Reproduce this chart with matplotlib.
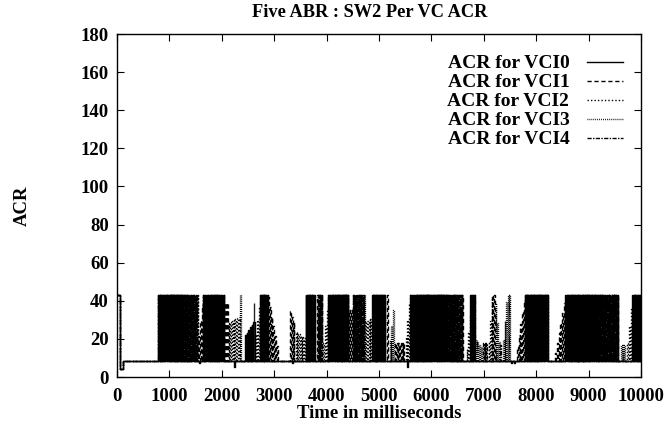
import matplotlib.pyplot as plt
import numpy as np

plt.rcParams['font.family'] = 'Liberation Serif'
plt.rcParams['font.weight'] = 'bold'

# start-up transient shared by all VCs (ms, ACR)
start_t = [0, 50, 110]
start_acr = [43.0, 4.3, 8.6]
low_acr = 8.6
end_ms = 10000
step_ms = 16  # switch measurement interval

# bursts per VC: (start ms, end ms, peak ACR at start, peak ACR at end)
vci0_bursts = [(780, 1250, 43, 43), (1640, 2060, 43, 43), (2440, 2630, 22, 30),
               (2730, 2880, 43, 43), (3600, 3780, 43, 43), (4030, 4410, 43, 43),
               (4870, 5110, 43, 43), (5590, 6300, 43, 43), (6740, 6830, 43, 43),
               (7780, 8220, 43, 43), (8550, 9200, 43, 43), (9830, 10000, 43, 43)]
vci1_bursts = [(900, 1550, 43, 43), (1550, 1640, 20, 43), (2060, 2120, 39, 39),
               (2880, 3070, 43, 12), (3300, 3400, 35, 26), (3820, 3930, 43, 43),
               (4100, 4410, 43, 43), (4410, 4500, 35, 35), (4500, 4730, 43, 43),
               (5150, 5190, 43, 43), (5300, 5500, 18, 18), (5900, 6600, 43, 43),
               (7160, 7210, 43, 43), (7630, 7780, 15, 43), (7800, 8200, 43, 43),
               (8360, 8550, 12, 43), (8900, 9560, 43, 43)]
vci2_bursts = [(780, 1150, 43, 43), (1150, 1550, 43, 43), (1640, 2000, 43, 43),
               (2120, 2350, 28, 32), (2630, 2730, 20, 43), (2740, 2880, 43, 43),
               (3400, 3590, 24, 20), (3620, 3780, 43, 43), (3930, 4030, 15, 43),
               (4030, 4400, 43, 43), (4730, 4870, 29, 31), (4880, 5100, 43, 43),
               (5500, 5590, 18, 43), (5590, 6500, 43, 43), (6660, 6770, 12, 43),
               (7080, 7160, 14, 43), (7780, 8220, 43, 43), (8550, 9560, 43, 43),
               (9730, 9830, 15, 43), (9830, 10000, 43, 43)]
vci3_bursts = [(800, 1550, 43, 43), (1700, 2060, 43, 43), (2340, 2360, 43, 43),
               (2590, 2610, 39, 39), (2760, 2880, 43, 43), (3600, 3760, 43, 43),
               (3820, 3920, 43, 43), (4050, 4410, 43, 43), (4500, 4730, 43, 43),
               (4870, 5110, 43, 43), (5190, 5300, 15, 43), (5600, 6600, 43, 43),
               (6830, 6960, 20, 15), (7210, 7310, 43, 12), (7350, 7440, 15, 43),
               (7440, 7500, 43, 43), (8100, 8220, 43, 43), (8550, 9560, 43, 43),
               (9600, 9700, 17, 17)]
vci4_bursts = [(780, 1500, 43, 43), (1640, 2050, 43, 43), (2730, 2860, 43, 43),
               (3620, 3700, 43, 43), (3830, 3930, 43, 43), (4030, 4400, 43, 43),
               (4500, 4720, 43, 43), (4880, 5110, 43, 43), (5700, 6600, 43, 43),
               (6750, 6830, 43, 43), (6980, 7080, 18, 18), (7310, 7350, 17, 17),
               (7780, 8200, 43, 43), (8560, 9560, 43, 43), (9840, 10000, 43, 43)]

# short dips below the floor value (ms, ACR)
dip_t = [1560, 2240, 3340, 5540, 7520, 7580]
dip_acr = [7.3, 5.4, 7.3, 5.4, 7.5, 7.5]

labels = ['ACR for VCI0', 'ACR for VCI1', 'ACR for VCI2', 'ACR for VCI3', 'ACR for VCI4']
bursts = [vci0_bursts, vci1_bursts, vci2_bursts, vci3_bursts, vci4_bursts]
styles = ['-', (0, (3, 2)), (0, (1, 1.5)), (0, (0.6, 0.8)), (0, (3, 1, 1, 1))]


def build_series(burst_list, phase, with_dips):
    t = list(start_t)
    v = list(start_acr)
    events = []
    for t0, t1, h0, h1 in burst_list:
        n = int((t1 - t0) // step_ms)
        for k in range(n):
            tk = t0 + phase + k * step_ms
            if tk >= t1:
                break
            if k % 2 == 0:
                frac = (tk - t0) / max(t1 - t0, 1)
                events.append((tk, h0 + (h1 - h0) * frac))
            else:
                events.append((tk, low_acr))
        events.append((t1, low_acr))
    if with_dips:
        for td, vd in zip(dip_t, dip_acr):
            events.append((td, vd))
            events.append((td + 15, low_acr))
    events.sort()
    for tk, vk in events:
        if tk > start_t[-1]:
            t.append(tk)
            v.append(vk)
    t.append(end_ms)
    v.append(v[-1])
    return np.array(t), np.array(v)


fig = plt.figure(figsize=(6.66, 4.29), dpi=100)
ax = fig.add_axes([0.1757, 0.1212, 0.7868, 0.7995])

for i in range(5):
    t, v = build_series(bursts[i], (i * 5) % step_ms, i == 0)
    ax.plot(t, v, color='black', lw=1.0, linestyle=styles[i],
            drawstyle='steps-post', label=labels[i])

ax.set_xlim(0, 10000)
ax.set_ylim(0, 180)
ax.set_xticks(np.arange(0, 10001, 1000))
ax.set_yticks(np.arange(0, 181, 20))
ax.tick_params(axis='both', direction='in', length=5, width=0.8, top=True,
               right=True, labelsize=13.5)
ax.tick_params(axis='x', pad=8)
ax.tick_params(axis='y', pad=6)
for lab in ax.get_xticklabels() + ax.get_yticklabels():
    lab.set_fontweight('bold')
for s in ax.spines.values():
    s.set_linewidth(1.0)

ax.set_title('Five ABR : SW2 Per VC ACR', fontsize=13.2, fontweight='bold',
             x=0.483, pad=12)
ax.set_xlabel('Time in milliseconds', fontsize=13.5, fontweight='bold', labelpad=0)
ax.set_ylabel('ACR', fontsize=13.5, fontweight='bold', labelpad=36)

leg = ax.legend(loc='upper right', frameon=False, fontsize=14, markerfirst=False,
                handlelength=1.85, handletextpad=0.9, labelspacing=0.07,
                borderaxespad=0.0, bbox_to_anchor=(0.98, 0.962))
for txt in leg.get_texts():
    txt.set_fontweight('bold')
    txt.set_ha('right')

fig.savefig('out.png', dpi=100)
